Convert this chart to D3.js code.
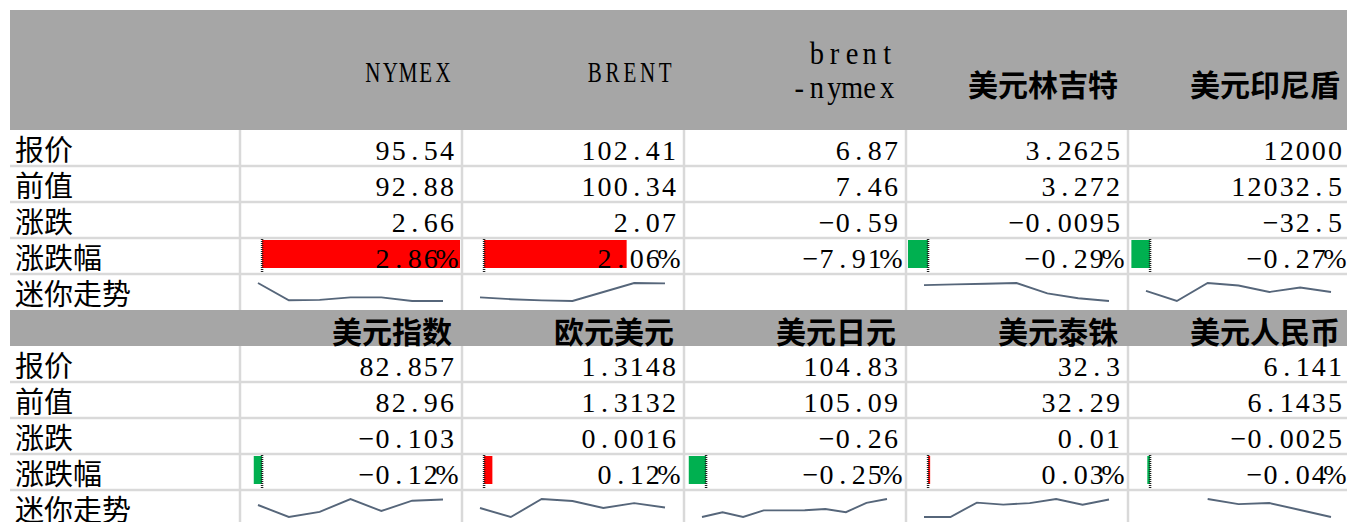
<!DOCTYPE html>
<html>
<head>
<meta charset="utf-8">
<script src="https://cdn.jsdelivr.net/npm/d3@7"></script>
<style>
  body { margin: 0; background: #fff; }
</style>
</head>
<body>
<div id="wrapper"></div>
<script>
// row labels shared by both blocks
const rowLabels = ["报价", "前值", "涨跌", "涨跌幅", "迷你走势"];

// block 1: oil + asian fx
const oilNames = ["NYMEX", "BRENT", "brent\n-nymex", "美元林吉特", "美元印尼盾"];
const oilPrice = [95.54, 102.41, 6.87, 3.2625, 12000];
const oilPrev = [92.88, 100.34, 7.46, 3.272, 12032.5];
const oilChange = [2.66, 2.07, -0.59, -0.0095, -32.5];
const oilPct = [2.86, 2.06, -7.91, -0.29, -0.27];
const oilHasBar = [true, true, false, true, true];
const oilSpark = [
  [97.9, 93.1, 93.2, 93.9, 93.9, 92.9, 92.88],
  [98.0, 97.7, 97.5, 97.4, 98.9, 100.4, 100.34],
  [],
  [3.295, 3.296, 3.297, 3.298, 3.283, 3.276, 3.272],
  [12047, 11980, 12100, 12083, 12040, 12070, 12040],
];

// block 2: dollar crosses
const fxNames = ["美元指数", "欧元美元", "美元日元", "美元泰铢", "美元人民币"];
const fxPrice = [82.857, 1.3148, 104.83, 32.3, 6.141];
const fxPrev = [82.96, 1.3132, 105.09, 32.29, 6.1435];
const fxChange = [-0.103, 0.0016, -0.26, 0.01, -0.0025];
const fxPct = [-0.12, 0.12, -0.25, 0.03, -0.04];
const fxHasBar = [true, true, true, true, true];
const fxSpark = [
  [82.83, 82.55, 82.67, 82.97, 82.69, 82.93, 82.96],
  [1.3130, 1.3095, 1.3165, 1.3157, 1.3130, 1.3149, 1.3132],
  [104.19, 104.43, 104.19, 104.52, 104.52, 104.53, 104.59, 104.43, 104.90, 105.09],
  [31.95, 31.95, 32.23, 32.19, 32.22, 32.30, 32.19, 32.29],
  [null, null, 6.152, 6.1496, 6.1501, 6.1468, 6.1435],
];

const width = 1347, height = 522;
const rowH = 36;
const gridColor = "#d9d9d9";
const headFill = "#a6a6a6";
const cjkFont = "'Noto Sans CJK SC', sans-serif";
const numFont = "'Liberation Serif', serif";

const svg = d3.select("#wrapper").append("svg")
  .attr("width", width)
  .attr("height", height);

const colScale = d3.scaleBand()
  .domain(d3.range(5))
  .range([240, 1350]);

// one data bar scale shared by every cell that has a bar
const barValues = oilPct.filter((d, i) => oilHasBar[i])
  .concat(fxPct.filter((d, i) => fxHasBar[i]));
const barScale = d3.scaleLinear()
  .domain(d3.extent(barValues))
  .range([2, colScale.bandwidth() - 2]);

const fmt = v => String(v).replace("-", "\u2212");
const fmtPct = v => v.toFixed(2).replace("-", "\u2212") + "%";
const isCjk = s => /[\u4e00-\u9fff]/.test(s);

// serif glyphs laid out in fixed cells, like the sheet's font
function monoText(g, str, right, y, cw, size, sx = 1) {
  const chars = Array.from(str);
  const n = chars.length;
  const xs = chars.map((c, i) => (right - (n - i - 0.5) * cw) / sx);
  g.append("text")
    .attr("transform", sx !== 1 ? `scale(${sx},1)` : null)
    .attr("x", xs.join(" "))
    .attr("y", y)
    .attr("text-anchor", "middle")
    .attr("font-family", numFont)
    .attr("font-size", size)
    .attr("fill", "#000")
    .text(str);
}

function drawBlock(top, headH, names, price, prev, change, pct, hasBar, spark) {
  const g = svg.append("g");
  const rowsTop = top + headH;
  const rowScale = d3.scaleBand()
    .domain(rowLabels)
    .range([rowsTop, rowsTop + rowLabels.length * rowH]);

  // header band
  g.append("rect")
    .attr("x", 10).attr("y", top)
    .attr("width", width - 10).attr("height", headH)
    .attr("fill", headFill);

  // grid
  const grid = g.append("g").attr("stroke", gridColor).attr("stroke-width", 2.5);
  rowLabels.slice(1).forEach(r => {
    grid.append("line")
      .attr("x1", 10).attr("x2", width)
      .attr("y1", rowScale(r)).attr("y2", rowScale(r));
  });
  d3.range(5).forEach(i => {
    grid.append("line")
      .attr("x1", colScale(i)).attr("x2", colScale(i))
      .attr("y1", rowsTop).attr("y2", rowsTop + rowLabels.length * rowH);
  });

  // header texts
  names.forEach((name, i) => {
    const right = colScale(i) + colScale.bandwidth() - 10;
    if (isCjk(name)) {
      g.append("text")
        .attr("x", right)
        .attr("y", top + headH / 2 + (headH > 60 ? 13 : 2))
        .attr("text-anchor", "end")
        .attr("dominant-baseline", "central")
        .attr("font-family", cjkFont)
        .attr("font-weight", "bold")
        .attr("font-size", 30)
        .text(name);
    } else {
      const lines = name.split("\n");
      const base = lines.length > 1 ? [top + 54, top + 88] : [top + 72];
      lines.forEach((ln, k) => {
        const caps = ln === ln.toUpperCase();
        monoText(g, ln, right, base[k], 17.6, caps ? 30 : 31, caps ? 0.7 : 0.92);
      });
    }
  });

  // row labels
  rowLabels.forEach(r => {
    g.append("text")
      .attr("x", 15)
      .attr("y", rowScale(r) + rowH / 2)
      .attr("dominant-baseline", "central")
      .attr("font-family", cjkFont)
      .attr("font-size", 29)
      .text(r);
  });

  // data bars in the 涨跌幅 row
  const barTop = rowScale("涨跌幅");
  pct.forEach((v, i) => {
    if (!hasBar[i]) return;
    const x0 = colScale(i);
    const zero = x0 + barScale(0);
    const xv = x0 + barScale(v);
    g.append("rect")
      .attr("x", Math.min(zero, xv))
      .attr("y", barTop + 2)
      .attr("width", Math.abs(xv - zero))
      .attr("height", 28)
      .attr("fill", v >= 0 ? "#ff0000" : "#00b050");
    g.append("line")
      .attr("x1", zero).attr("x2", zero)
      .attr("y1", barTop + 1).attr("y2", barTop + 34)
      .attr("stroke", "#222")
      .attr("stroke-width", 2.5)
      .attr("stroke-dasharray", "1 1");
  });

  // numbers
  const rows = [price, prev, change];
  rows.forEach((vals, k) => {
    const y = rowScale(rowLabels[k]) + 30;
    vals.forEach((v, i) => {
      monoText(g, fmt(v), colScale(i) + colScale.bandwidth() - 7, y, 16.1, 28);
    });
  });
  pct.forEach((v, i) => {
    monoText(g, fmtPct(v), colScale(i) + colScale.bandwidth() - 7, barTop + 30, 16.1, 28);
  });

  // sparklines
  const sTop = rowScale("迷你走势");
  spark.forEach((vals, i) => {
    if (!vals.length) return;
    const x0 = colScale(i);
    const xS = d3.scalePoint()
      .domain(d3.range(vals.length))
      .range([x0 + 18, x0 + colScale.bandwidth() - 19]);
    const yS = d3.scaleLinear()
      .domain(d3.extent(vals.filter(v => v != null)))
      .range([sTop + 27, sTop + 9]);
    const lineGen = d3.line()
      .defined(v => v != null)
      .x((v, j) => xS(j))
      .y(v => yS(v));
    g.append("path")
      .attr("d", lineGen(vals))
      .attr("fill", "none")
      .attr("stroke", "#56667a")
      .attr("stroke-width", 1.9);
  });
}

drawBlock(10, 120, oilNames, oilPrice, oilPrev, oilChange, oilPct, oilHasBar, oilSpark);
drawBlock(310, 36, fxNames, fxPrice, fxPrev, fxChange, fxPct, fxHasBar, fxSpark);
</script>
</body>
</html>
